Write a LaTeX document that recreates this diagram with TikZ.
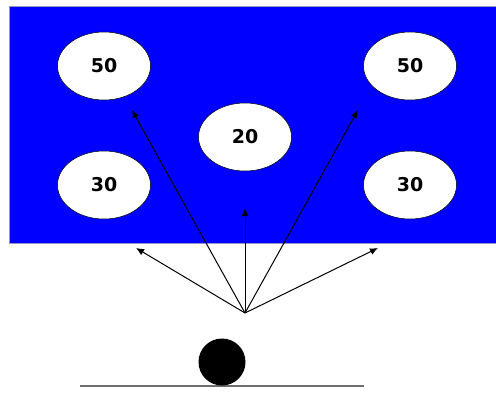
\documentclass[tikz,border=0pt]{standalone}
\usepackage{fontspec}
\setmainfont{DejaVu Sans}
\usetikzlibrary{arrows.meta,shapes.geometric}
\begin{document}
\begin{tikzpicture}[x=1pt,y=-1pt,
  target/.style={ellipse,draw=black,line width=0.5pt,fill=white,minimum width=93pt,minimum height=68pt,inner sep=0pt,font=\bfseries\fontsize{19}{19}\selectfont},
  ray/.style={draw=black,line width=1pt,-{Latex[length=8pt,width=7pt]}}]
\useasboundingbox (0,0) rectangle (496,394);
\fill[white] (0,0) rectangle (496,394);
\draw[fill={rgb,255:red,0;green,0;blue,255},draw={rgb,255:red,150;green,150;blue,190},line width=0.8pt] (9,6) rectangle (497,243);
\node[target] (tl) at (104,66) {50};
\node[target] (tr) at (410,66) {50};
\node[target] (c) at (245,137) {20};
\node[target] (bl) at (104,185) {30};
\node[target] (br) at (410,185) {30};
\coordinate (s) at (245,313);
\coordinate (a1) at (132,110);
\coordinate (a2) at (358,110);
\coordinate (a3) at (245,208);
\coordinate (a4) at (136,248);
\coordinate (a5) at (378,248);
\foreach \t in {a1,a2,a3,a4,a5} \draw[ray] (s) -- (\t);
\draw[draw={rgb,255:red,110;green,110;blue,110},line width=2.5pt] (80,386) coordinate (g1) -- (364,386) coordinate (g2);
\fill[black] (222,362) circle (23.5) node (ball) {};
\end{tikzpicture}
\end{document}
